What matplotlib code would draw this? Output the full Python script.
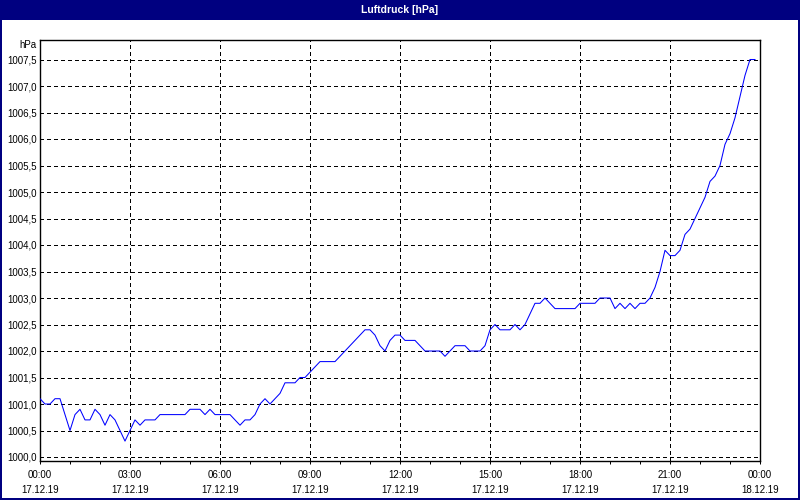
import numpy as np
import matplotlib
matplotlib.use("Agg")
import matplotlib.pyplot as plt
from matplotlib.patches import Rectangle
from matplotlib.ticker import FuncFormatter, MultipleLocator

# ---- data (10-minute samples starting 17.12.19 00:00) ----
pressure = [
    1001.1, 1001.0, 1001.0, 1001.1, 1001.1, 1000.8, 1000.5, 1000.8, 1000.9, 1000.7,
    1000.7, 1000.9, 1000.8, 1000.6, 1000.8, 1000.7, 1000.5, 1000.3, 1000.5, 1000.7,
    1000.6, 1000.7, 1000.7, 1000.7, 1000.8, 1000.8, 1000.8, 1000.8, 1000.8, 1000.8,
    1000.9, 1000.9, 1000.9, 1000.8, 1000.9, 1000.8, 1000.8, 1000.8, 1000.8, 1000.7,
    1000.6, 1000.7, 1000.7, 1000.8, 1001.0, 1001.1, 1001.0, 1001.1, 1001.2, 1001.4,
    1001.4, 1001.4, 1001.5, 1001.5, 1001.6, 1001.7, 1001.8, 1001.8, 1001.8, 1001.8,
    1001.9, 1002.0, 1002.1, 1002.2, 1002.3, 1002.4, 1002.4, 1002.3, 1002.1, 1002.0,
    1002.2, 1002.3, 1002.3, 1002.2, 1002.2, 1002.2, 1002.1, 1002.0, 1002.0, 1002.0,
    1002.0, 1001.9, 1002.0, 1002.1, 1002.1, 1002.1, 1002.0, 1002.0, 1002.0, 1002.1,
    1002.4, 1002.5, 1002.4, 1002.4, 1002.4, 1002.5, 1002.4, 1002.5, 1002.7, 1002.9,
    1002.9, 1003.0, 1002.9, 1002.8, 1002.8, 1002.8, 1002.8, 1002.8, 1002.9, 1002.9,
    1002.9, 1002.9, 1003.0, 1003.0, 1003.0, 1002.8, 1002.9, 1002.8, 1002.9, 1002.8,
    1002.9, 1002.9, 1003.0, 1003.2, 1003.5, 1003.9, 1003.8, 1003.8, 1003.9, 1004.2,
    1004.3, 1004.5, 1004.7, 1004.9, 1005.2, 1005.3, 1005.5, 1005.9, 1006.1, 1006.4,
    1006.8, 1007.2, 1007.5, 1007.5,
]
sample_minutes = 10
hours = [i * sample_minutes / 60.0 for i in range(len(pressure))]

x_ticks = [0, 3, 6, 9, 12, 15, 18, 21, 24]
x_tick_labels = ["00:00\n17.12.19", "03:00\n17.12.19", "06:00\n17.12.19",
                 "09:00\n17.12.19", "12:00\n17.12.19", "15:00\n17.12.19",
                 "18:00\n17.12.19", "21:00\n17.12.19", "00:00\n18.12.19"]
y_ticks = [1000.0, 1000.5, 1001.0, 1001.5, 1002.0, 1002.5, 1003.0, 1003.5,
           1004.0, 1004.5, 1005.0, 1005.5, 1006.0, 1006.5, 1007.0, 1007.5]
title = "Luftdruck [hPa]"
unit = "hPa"

# ---- figure ----
plt.rcParams['font.family'] = ['Liberation Sans', 'DejaVu Sans']
W, H = 800, 500
fig = plt.figure(figsize=(8, 5), dpi=100, facecolor="white")

navy = "#000080"
px = 1.0 / W
py = 1.0 / H
# title bar
fig.patches.append(Rectangle((0, 1 - 20 * py), 1, 20 * py, transform=fig.transFigure,
                             facecolor=navy, edgecolor="none", zorder=0))
# window border (left, right, bottom)
fig.patches.append(Rectangle((0, 0), 2 * px, 1, transform=fig.transFigure,
                             facecolor=navy, edgecolor="none"))
fig.patches.append(Rectangle((1 - 2 * px, 0), 2 * px, 1, transform=fig.transFigure,
                             facecolor=navy, edgecolor="none"))
fig.patches.append(Rectangle((0, 0), 1, 2 * py, transform=fig.transFigure,
                             facecolor=navy, edgecolor="none"))
fig.text(0.5, 1 - 10 * py, title, color="white", fontsize=7.5, fontweight="bold",
         ha="center", va="center")

ax = fig.add_axes([40 * px, 39 * py, 720 * px, 421 * py])
ax.set_facecolor("white")

lw = 0.72
dash = (0, (3, 3))

# grid
for yv in y_ticks:
    ax.axhline(yv, color="black", lw=lw, linestyle=dash, antialiased=False, zorder=1)
for xv in x_ticks[1:-1]:
    ax.axvline(xv, color="black", lw=lw, linestyle=dash, antialiased=False, zorder=1)

ax.plot(hours, pressure, color="#0000ff", lw=0.75, antialiased=True, zorder=3)

ax.set_xlim(0, 24)
ax.set_ylim(1000 - 4 / 53.0, 1007.5 + 19.5 / 53.0)

ax.set_xticks(x_ticks)
ax.set_xticklabels(x_tick_labels, fontsize=7, linespacing=1.6)
ax.xaxis.set_minor_locator(MultipleLocator(1))
ax.tick_params(axis="x", which="both", direction="out", length=2.3, width=lw,
               pad=4, colors="black")

ax.set_yticks(y_ticks)
ax.yaxis.set_major_formatter(FuncFormatter(lambda v, p: f"{v:.1f}".replace(".", ",")))
ax.tick_params(axis="y", which="both", length=0, pad=2.5, labelsize=7)

for s in ax.spines.values():
    s.set_linewidth(1.0)
    s.set_color("black")

ax.text(-3.0 / 720, 1.0, unit, transform=ax.transAxes, ha="right",
        va="top", fontsize=7)

fig.savefig("out.png", dpi=100, facecolor=fig.get_facecolor())
